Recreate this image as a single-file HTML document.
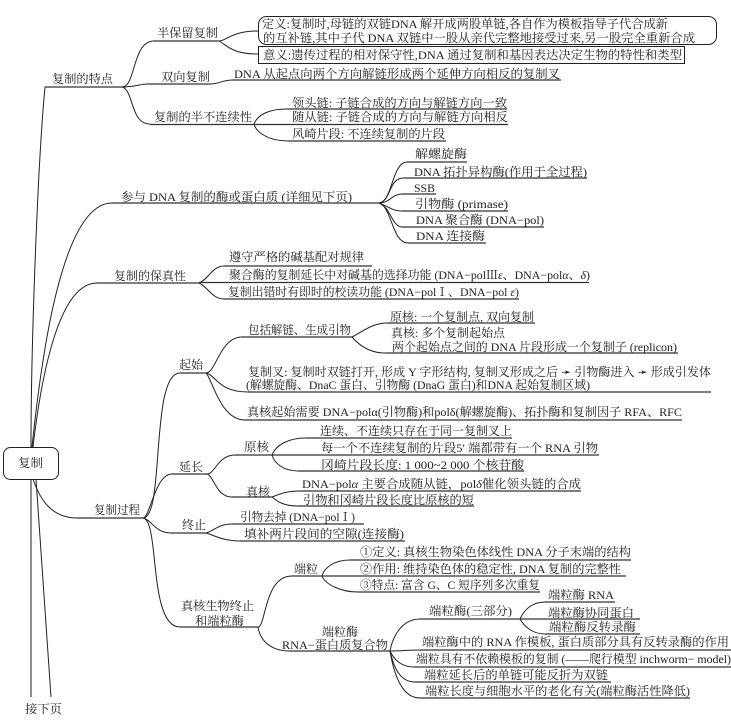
<!DOCTYPE html>
<html><head><meta charset="utf-8"><style>
html,body{margin:0;padding:0;background:#fff;width:731px;height:722px;overflow:hidden}
svg{display:block}
text{font-family:"Liberation Serif","Noto Serif CJK SC",serif;font-size:12px;fill:#222;dominant-baseline:auto}
path,line,rect{fill:none;stroke:#222;stroke-width:1}
line.u{stroke:#333;stroke-width:1.2}
</style></head><body>
<svg width="731" height="722" viewBox="0 0 731 722" xmlns="http://www.w3.org/2000/svg">
<rect x="3.5" y="447.5" width="55" height="32" rx="7"/>
<rect x="258.5" y="16.5" width="458" height="28" rx="8"/>
<rect x="258.5" y="46.5" width="426" height="17"/>
<g>
<path d="M31 447C31 340 38 160 45 87"/>
<path d="M32 447C40 370 60 203 112 203"/>
<path d="M33 447C42 370 60 283 97 283"/>
<path d="M33 479C40 500 52 518 77 518"/>
<path d="M31 479V697"/>
<path d="M36 479L51 697"/>
<path d="M122 87C136 87 132 41 154 41"/>
<path d="M122 87C135 87 140 84 148 84"/>
<path d="M210 84C220 84 222 80 233 80"/>
<path d="M122 87C134 90 130 124 150 124"/>
<path d="M219 41C226 41 232 31 258 31"/>
<path d="M219 41C228 46 232 54 258 54"/>
<path d="M254 124C258 114 270 109 287 109"/>
<path d="M254 124C256 132 268 141 288 141"/>
<path d="M379 203C392 203 392 162 407 162"/>
<path d="M379 203C392 200 388 178 404 178"/>
<path d="M379 203C390 203 392 194 402 194"/>
<path d="M379 203C390 207 392 211 402 211"/>
<path d="M379 203C390 206 392 227 402 227"/>
<path d="M379 203C392 207 392 243 408 243"/>
<path d="M199 283C208 280 212 266 224 266"/>
<path d="M199 283C208 287 212 299 224 299"/>
<path d="M143 518C165 518 150 373 180 373"/>
<path d="M143 518C150 518 155 474 172 474"/>
<path d="M143 518C152 520 155 533 171 533"/>
<path d="M143 518C160 520 148 627 180 627"/>
<path d="M206 373C216 373 220 337 242 337"/>
<path d="M206 373C216 375 218 392 248 392"/>
<path d="M206 373C212 378 220 420 245 420"/>
<path d="M352 337C362 332 372 323 387 323"/>
<path d="M352 337C358 344 368 353 385 353"/>
<path d="M207 474C215 474 218 455 235 455"/>
<path d="M207 474C214 476 216 497 232 497"/>
<path d="M272 455C276 445 288 438 306 438"/>
<path d="M272 455C274 462 282 471 298 471"/>
<path d="M272 497C280 494 286 491 300 491"/>
<path d="M272 497C278 502 284 506 298 506"/>
<path d="M206 533C214 531 218 524 232 524"/>
<path d="M206 533C214 535 222 541 240 541"/>
<path d="M258 627C266 627 264 576 292 576"/>
<path d="M258 627C260 640 270 651 290 651"/>
<path d="M322 576C324 568 334 560 350 560"/>
<path d="M322 576C325 584 340 592 358 592"/>
<path d="M390 651C392 640 400 619 420 619"/>
<path d="M390 651C400 651 410 650 420 650"/>
<path d="M390 651C394 660 402 667 414 667"/>
<path d="M390 651C394 668 400 682 415 682"/>
<path d="M390 651C394 675 402 698 420 698"/>
<path d="M520 619C524 610 532 602 545 602"/>
<path d="M520 619C524 626 532 634 545 634"/>
</g>
<g>
<line class="u" x1="45" y1="87" x2="122" y2="87"/>
<line class="u" x1="154" y1="41" x2="219" y2="41"/>
<line class="u" x1="148" y1="84" x2="210" y2="84"/>
<line class="u" x1="233" y1="80" x2="561" y2="80"/>
<line class="u" x1="150" y1="124.5" x2="508" y2="124.5"/>
<line class="u" x1="287" y1="109" x2="507" y2="109"/>
<line class="u" x1="288" y1="141" x2="446" y2="141"/>
<line class="u" x1="407" y1="162" x2="467" y2="162"/>
<line class="u" x1="404" y1="178" x2="587" y2="178"/>
<line class="u" x1="402" y1="194" x2="436" y2="194"/>
<line class="u" x1="402" y1="211" x2="508" y2="211"/>
<line class="u" x1="402" y1="227" x2="544" y2="227"/>
<line class="u" x1="408" y1="243" x2="486" y2="243"/>
<line class="u" x1="112" y1="203" x2="379" y2="203"/>
<line class="u" x1="224" y1="266" x2="372" y2="266"/>
<line class="u" x1="199" y1="282.5" x2="589" y2="282.5"/>
<line class="u" x1="224" y1="299" x2="519" y2="299"/>
<line class="u" x1="97" y1="283" x2="199" y2="283"/>
<line class="u" x1="242" y1="337" x2="352" y2="337"/>
<line class="u" x1="387" y1="323" x2="535" y2="323"/>
<line class="u" x1="385" y1="353" x2="678" y2="353"/>
<line class="u" x1="180" y1="373" x2="206" y2="373"/>
<line class="u" x1="248" y1="392" x2="711" y2="392"/>
<line class="u" x1="245" y1="420" x2="682" y2="420"/>
<line class="u" x1="306" y1="438" x2="512" y2="438"/>
<line class="u" x1="235" y1="455" x2="599" y2="455"/>
<line class="u" x1="298" y1="471" x2="524" y2="471"/>
<line class="u" x1="172" y1="474" x2="207" y2="474"/>
<line class="u" x1="300" y1="491" x2="581" y2="491"/>
<line class="u" x1="232" y1="497" x2="272" y2="497"/>
<line class="u" x1="298" y1="506" x2="474" y2="506"/>
<line class="u" x1="77" y1="518" x2="143" y2="518"/>
<line class="u" x1="232" y1="524" x2="364" y2="524"/>
<line class="u" x1="171" y1="533" x2="206" y2="533"/>
<line class="u" x1="240" y1="541" x2="405" y2="541"/>
<line class="u" x1="350" y1="560" x2="631" y2="560"/>
<line class="u" x1="292" y1="576" x2="626" y2="576"/>
<line class="u" x1="358" y1="592" x2="540" y2="592"/>
<line class="u" x1="545" y1="602" x2="615" y2="602"/>
<line class="u" x1="420" y1="619" x2="640" y2="619"/>
<line class="u" x1="180" y1="627" x2="258" y2="627"/>
<line class="u" x1="545" y1="634" x2="640" y2="634"/>
<line class="u" x1="290" y1="651" x2="390" y2="651"/>
<line class="u" x1="420" y1="650" x2="731" y2="650"/>
<line class="u" x1="414" y1="667" x2="731" y2="667"/>
<line class="u" x1="415" y1="682" x2="611" y2="682"/>
<line class="u" x1="420" y1="698" x2="690" y2="698"/>
</g>
<g lengthAdjust="spacingAndGlyphs">
<text x="18" y="467" textLength="25" lengthAdjust="spacingAndGlyphs">复制</text>
<text x="52" y="83" textLength="61" lengthAdjust="spacingAndGlyphs">复制的特点</text>
<text x="157" y="37" textLength="61" lengthAdjust="spacingAndGlyphs">半保留复制</text>
<text x="262" y="28" textLength="406" lengthAdjust="spacingAndGlyphs">定义:复制时,母链的双链DNA 解开成两股单链,各自作为模板指导子代合成新</text>
<text x="263" y="42" textLength="432" lengthAdjust="spacingAndGlyphs">的互补链,其中子代 DNA 双链中一股从亲代完整地接受过来,另一股完全重新合成</text>
<text x="263" y="59" textLength="419" lengthAdjust="spacingAndGlyphs">意义:遗传过程的相对保守性,DNA 通过复制和基因表达决定生物的特性和类型</text>
<text x="161" y="81" textLength="49" lengthAdjust="spacingAndGlyphs">双向复制</text>
<text x="234" y="78" textLength="326" lengthAdjust="spacingAndGlyphs">DNA 从起点向两个方向解链形成两个延伸方向相反的复制叉</text>
<text x="154" y="121" textLength="98" lengthAdjust="spacingAndGlyphs">复制的半不连续性</text>
<text x="292" y="107" textLength="215" lengthAdjust="spacingAndGlyphs">领头链: 子链合成的方向与解链方向一致</text>
<text x="292" y="121" textLength="216" lengthAdjust="spacingAndGlyphs">随从链: 子链合成的方向与解链方向相反</text>
<text x="292" y="138" textLength="153" lengthAdjust="spacingAndGlyphs">风崎片段: 不连续复制的片段</text>
<text x="415" y="158" textLength="52" lengthAdjust="spacingAndGlyphs">解螺旋酶</text>
<text x="414" y="176" textLength="173" lengthAdjust="spacingAndGlyphs">DNA 拓扑异构酶(作用于全过程)</text>
<text x="414" y="192" textLength="21" lengthAdjust="spacingAndGlyphs">SSB</text>
<text x="415" y="208" textLength="93" lengthAdjust="spacingAndGlyphs">引物酶 (primase)</text>
<text x="416" y="224" textLength="128" lengthAdjust="spacingAndGlyphs">DNA 聚合酶 (DNA−pol)</text>
<text x="416" y="240" textLength="69" lengthAdjust="spacingAndGlyphs">DNA 连接酶</text>
<text x="121" y="201" textLength="231" lengthAdjust="spacingAndGlyphs">参与 DNA 复制的酶或蛋白质 (详细见下页)</text>
<text x="229" y="261" textLength="135" lengthAdjust="spacingAndGlyphs">遵守严格的碱基配对规律</text>
<text x="229" y="279" textLength="361" lengthAdjust="spacingAndGlyphs">聚合酶的复制延长中对碱基的选择功能 (DNA−polⅢ<tspan font-style="italic">ε</tspan>、DNA−pol<tspan font-style="italic">α</tspan>、<tspan font-style="italic">δ</tspan>)</text>
<text x="228" y="296" textLength="291" lengthAdjust="spacingAndGlyphs">复制出错时有即时的校读功能 (DNA−polⅠ、DNA−pol <tspan font-style="italic">ε</tspan>)</text>
<text x="114" y="280" textLength="72" lengthAdjust="spacingAndGlyphs">复制的保真性</text>
<text x="248" y="334" textLength="103" lengthAdjust="spacingAndGlyphs">包括解链、生成引物</text>
<text x="390" y="321" textLength="144" lengthAdjust="spacingAndGlyphs">原核: 一个复制点, 双向复制</text>
<text x="391" y="337" textLength="114" lengthAdjust="spacingAndGlyphs">真核: 多个复制起始点</text>
<text x="392" y="351" textLength="285" lengthAdjust="spacingAndGlyphs">两个起始点之间的 DNA 片段形成一个复制子 (replicon)</text>
<text x="179" y="369" textLength="24" lengthAdjust="spacingAndGlyphs">起始</text>
<text x="248" y="376" textLength="463" lengthAdjust="spacingAndGlyphs">复制叉: 复制时双链打开, 形成 Y 字形结构, 复制叉形成之后 ➛ 引物酶进入 ➛ 形成引发体</text>
<text x="246" y="389" textLength="344" lengthAdjust="spacingAndGlyphs">(解螺旋酶、DnaC 蛋白、引物酶 (DnaG 蛋白)和DNA 起始复制区域)</text>
<text x="247" y="416" textLength="435" lengthAdjust="spacingAndGlyphs">真核起始需要 DNA−polα(引物酶)和polδ(解螺旋酶)、拓扑酶和复制因子 RFA、RFC</text>
<text x="320" y="435" textLength="192" lengthAdjust="spacingAndGlyphs">连续、不连续只存在于同一复制叉上</text>
<text x="321" y="452" textLength="277" lengthAdjust="spacingAndGlyphs">每一个不连续复制的片段5′ 端都带有一个 RNA 引物</text>
<text x="321" y="469" textLength="203" lengthAdjust="spacingAndGlyphs">冈崎片段长度: 1 000~2 000 个核苷酸</text>
<text x="244" y="451" textLength="25" lengthAdjust="spacingAndGlyphs">原核</text>
<text x="179" y="471" textLength="24" lengthAdjust="spacingAndGlyphs">延长</text>
<text x="246" y="496" textLength="24" lengthAdjust="spacingAndGlyphs">真核</text>
<text x="302" y="488" textLength="279" lengthAdjust="spacingAndGlyphs">DNA−pol<tspan font-style="italic">α</tspan> 主要合成随从链，pol<tspan font-style="italic">δ</tspan>催化领头链的合成</text>
<text x="303" y="504" textLength="171" lengthAdjust="spacingAndGlyphs">引物和冈崎片段长度比原核的短</text>
<text x="94" y="514" textLength="46" lengthAdjust="spacingAndGlyphs">复制过程</text>
<text x="182" y="529" textLength="24" lengthAdjust="spacingAndGlyphs">终止</text>
<text x="240" y="521" textLength="115" lengthAdjust="spacingAndGlyphs">引物去掉 (DNA−polⅠ)</text>
<text x="244" y="538" textLength="160" lengthAdjust="spacingAndGlyphs">填补两片段间的空隙(连接酶)</text>
<text x="181" y="610" textLength="73" lengthAdjust="spacingAndGlyphs">真核生物终止</text>
<text x="195" y="625" textLength="49" lengthAdjust="spacingAndGlyphs">和端粒酶</text>
<text x="294" y="573" textLength="24" lengthAdjust="spacingAndGlyphs">端粒</text>
<text x="360" y="556" textLength="271" lengthAdjust="spacingAndGlyphs">①定义: 真核生物染色体线性 DNA 分子末端的结构</text>
<text x="360" y="573" textLength="261" lengthAdjust="spacingAndGlyphs">②作用: 维持染色体的稳定性, DNA 复制的完整性</text>
<text x="360" y="589" textLength="180" lengthAdjust="spacingAndGlyphs">③特点: 富含 G、C 短序列多次重复</text>
<text x="548" y="599" textLength="66" lengthAdjust="spacingAndGlyphs">端粒酶 RNA</text>
<text x="429" y="615" textLength="83" lengthAdjust="spacingAndGlyphs">端粒酶(三部分)</text>
<text x="548" y="617" textLength="86" lengthAdjust="spacingAndGlyphs">端粒酶协同蛋白</text>
<text x="549" y="631" textLength="87" lengthAdjust="spacingAndGlyphs">端粒酶反转录酶</text>
<text x="322" y="636" textLength="36" lengthAdjust="spacingAndGlyphs">端粒酶</text>
<text x="282" y="649" textLength="106" lengthAdjust="spacingAndGlyphs">RNA−蛋白质复合物</text>
<text x="422" y="646" textLength="307" lengthAdjust="spacingAndGlyphs">端粒酶中的 RNA 作模板, 蛋白质部分具有反转录酶的作用</text>
<text x="416" y="663" textLength="315" lengthAdjust="spacingAndGlyphs">端粒具有不依赖模板的复制 (——爬行模型 inchworm− model)</text>
<text x="424" y="679" textLength="184" lengthAdjust="spacingAndGlyphs">端粒延长后的单链可能反折为双链</text>
<text x="425" y="695" textLength="265" lengthAdjust="spacingAndGlyphs">端粒长度与细胞水平的老化有关(端粒酶活性降低)</text>
<text x="25" y="713" textLength="37" lengthAdjust="spacingAndGlyphs">接下页</text>
</g>
</svg>
</body></html>
